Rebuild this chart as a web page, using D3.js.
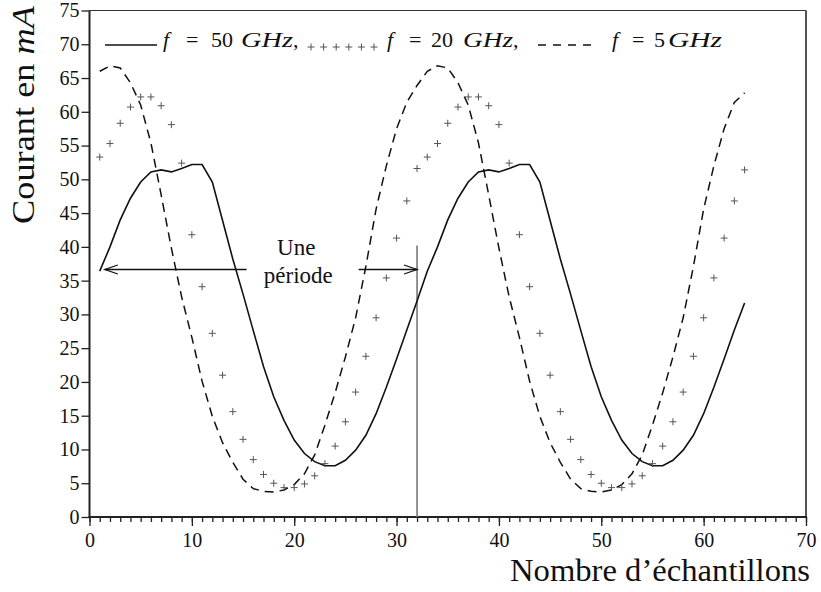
<!DOCTYPE html>
<html><head><meta charset="utf-8">
<script src="https://cdn.jsdelivr.net/npm/d3@7"></script>
<style>body{margin:0;background:#fff}svg{display:block}</style>
</head><body>
<svg id="c" width="821" height="592" font-family="Liberation Serif"></svg>
<script>
// ---- data ----
const samples = [1,2,3,4,5,6,7,8,9,10,11,12,13,14,15,16,17,18,19,20,21,22,23,24,25,26,27,28,29,30,31,32,
  33,34,35,36,37,38,39,40,41,42,43,44,45,46,47,48,49,50,51,52,53,54,55,56,57,58,59,60,61,62,63,64];
const f50 = [36.4,40.0,44.0,47.2,49.6,51.1,51.4,51.1,51.6,52.2,52.2,49.6,43.9,38.2,33.0,27.6,
  22.3,17.8,14.3,11.4,9.4,8.2,7.6,7.6,8.4,9.9,12.1,15.3,19.2,23.4,27.7,32.0,
  36.4,40.0,44.0,47.2,49.6,51.1,51.4,51.1,51.6,52.2,52.2,49.6,43.9,38.2,33.0,27.6,
  22.3,17.8,14.3,11.4,9.4,8.2,7.6,7.6,8.4,9.9,12.1,15.3,19.2,23.4,27.7,31.7];
const f20 = [53.3,55.3,58.3,60.7,62.2,62.2,60.9,58.1,52.4,41.8,34.1,27.2,21.0,15.6,11.5,8.5,
  6.3,5.0,4.35,4.35,4.9,6.1,7.9,10.5,14.1,18.5,23.8,29.5,35.4,41.3,46.8,51.6,
  53.3,55.3,58.3,60.7,62.2,62.2,60.9,58.1,52.4,41.8,34.1,27.2,21.0,15.6,11.5,8.5,
  6.3,5.0,4.35,4.35,4.9,6.1,7.9,10.5,14.1,18.5,23.8,29.5,35.4,41.3,46.8,51.4];
const f5 = [66.0,66.8,66.5,64.3,61.0,55.4,47.7,39.8,32.6,26.6,20.1,14.9,11.0,8.1,5.6,4.2,
  3.8,3.7,4.0,4.8,6.4,9.2,13.6,18.4,23.7,29.5,37.1,45.6,52.0,57.5,61.4,63.9,
  66.0,66.8,66.5,64.3,61.0,55.4,47.7,39.8,32.6,26.6,20.1,14.9,11.0,8.1,5.6,4.2,
  3.8,3.7,4.0,4.8,6.4,9.2,13.6,18.4,23.7,29.5,37.1,45.6,52.0,57.5,61.4,62.8];
const xMajorTicks = [0,10,20,30,40,50,60,70];
const yTickValues = [0,5,10,15,20,25,30,35,40,45,50,55,60,65,70,75];
const periodMark = 32;          // sample index of vertical marker
const arrowLevel = 36.65;       // y value of the "Une période" arrow
const legendLabels = ["50","20","5"];

// ---- scales ----
const FONT = "Liberation Serif";
const svg = d3.select("#c");
const x = d3.scaleLinear().domain([0,70]).range([89.5,806]);
const y = d3.scaleLinear().domain([0,75]).range([517,10.5]);

// frame (top/right)
svg.append("line").attr("x1",x(0)).attr("x2",x(70)).attr("y1",y(75)).attr("y2",y(75))
  .attr("stroke","#333").attr("stroke-width",1.2);
svg.append("line").attr("x1",x(70)).attr("x2",x(70)).attr("y1",y(75)).attr("y2",y(0))
  .attr("stroke","#555").attr("stroke-width",2);

// x axis: minor + major ticks
const xa = svg.append("g").attr("transform",`translate(0,${y(0)})`);
xa.call(d3.axisBottom(x).tickValues(d3.range(0,71,1)).tickSize(5).tickFormat(""));
const xb = svg.append("g").attr("transform",`translate(0,${y(0)})`);
xb.call(d3.axisBottom(x).tickValues(xMajorTicks).tickSize(9).tickPadding(7).tickFormat(d3.format("d")));
[xa,xb].forEach(g=>{g.attr("font-family",FONT);g.select(".domain").remove();g.selectAll("line").attr("stroke","#222").attr("stroke-width",1.3);});
xb.selectAll("text").attr("font-family",FONT).attr("font-size",20).attr("fill","#111");
svg.append("line").attr("x1",x(0)-1).attr("x2",x(70)+1).attr("y1",y(0)).attr("y2",y(0))
  .attr("stroke","#222").attr("stroke-width",2);

// y axis
const ya = svg.append("g").attr("transform",`translate(${x(0)},0)`);
ya.call(d3.axisLeft(y).tickValues(yTickValues).tickSize(8).tickPadding(2).tickFormat(d3.format("d")));
ya.attr("font-family",FONT);
ya.select(".domain").remove();
ya.selectAll("line").attr("stroke","#222").attr("stroke-width",1.3);
ya.selectAll("text").attr("font-family",FONT).attr("font-size",20).attr("fill","#111");
svg.append("line").attr("x1",x(0)).attr("x2",x(0)).attr("y1",y(75)).attr("y2",y(0)+1)
  .attr("stroke","#222").attr("stroke-width",2);

// axis titles
svg.append("text").attr("transform",`translate(34,115) rotate(-90)`)
  .attr("text-anchor","middle").attr("font-family",FONT).attr("font-size",31).attr("fill","#111")
  .attr("textLength",218).attr("lengthAdjust","spacingAndGlyphs")
  .html("Courant en <tspan font-style='italic'>mA</tspan>");
svg.append("text").attr("x",810).attr("y",581).attr("text-anchor","end")
  .attr("font-family",FONT).attr("font-size",31).attr("fill","#111")
  .attr("textLength",300).attr("lengthAdjust","spacingAndGlyphs").text("Nombre d’échantillons");

// vertical period marker
svg.append("line").attr("x1",x(periodMark)).attr("x2",x(periodMark))
  .attr("y1",y(40.2)).attr("y2",y(0)).attr("stroke","#777").attr("stroke-width",1.6);

// series
const pts = (vals)=>samples.map((s,i)=>[s,vals[i]]);
const line = d3.line().x(d=>x(d[0])).y(d=>y(d[1]));
svg.append("path").datum(pts(f5)).attr("d",line).attr("fill","none")
  .attr("stroke","#111").attr("stroke-width",1.5).attr("stroke-dasharray","9,6");
svg.append("path").datum(pts(f50)).attr("d",line).attr("fill","none")
  .attr("stroke","#111").attr("stroke-width",1.6);
const plus = (g,cx,cy)=>{
  g.append("line").attr("x1",cx-3.5).attr("x2",cx+3.5).attr("y1",cy).attr("y2",cy);
  g.append("line").attr("x1",cx).attr("x2",cx).attr("y1",cy-3.5).attr("y2",cy+3.5);
};
const pg = svg.append("g").attr("stroke","#555").attr("stroke-width",1);
pts(f20).forEach(d=>plus(pg,x(d[0]),y(d[1])));

// arrow annotation
const ag = svg.append("g").attr("stroke","#111").attr("stroke-width",1.3).attr("fill","none");
const ay = y(arrowLevel);
ag.append("line").attr("x1",x(1.5)).attr("x2",x(15.35)).attr("y1",ay).attr("y2",ay);
ag.append("path").attr("d",`M${x(1.5)+13},${ay-4.5}L${x(1.5)},${ay}L${x(1.5)+13},${ay+4.5}`);
ag.append("line").attr("x1",x(26.3)).attr("x2",x(periodMark)).attr("y1",ay).attr("y2",ay);
ag.append("path").attr("d",`M${x(periodMark)-13},${ay-4.5}L${x(periodMark)},${ay}L${x(periodMark)-13},${ay+4.5}`);
svg.append("text").attr("x",x(20.2)).attr("y",255).attr("text-anchor","middle")
  .attr("font-family",FONT).attr("font-size",23).attr("fill","#111").text("Une");
svg.append("text").attr("x",x(20.4)).attr("y",283).attr("text-anchor","middle")
  .attr("font-family",FONT).attr("font-size",23).attr("fill","#111").text("période");

// legend
const ly = 45;
svg.append("line").attr("x1",105).attr("x2",157).attr("y1",ly).attr("y2",ly)
  .attr("stroke","#111").attr("stroke-width",1.6);
const lgp = svg.append("g").attr("stroke","#555").attr("stroke-width",1);
[0,1,2,3,4,5].forEach(i=>plus(lgp,311+i*12.6,ly+2));
svg.append("line").attr("x1",538).attr("x2",591).attr("y1",ly).attr("y2",ly)
  .attr("stroke","#111").attr("stroke-width",1.5).attr("stroke-dasharray","8,7");
// legend text pieces: [x of f, x of =, x of number, x of GHz, GHz width, comma]
const legPos = [[163,186,211,241,52,true],[387,409,431,463,50,true],[612,632,654,668,54,false]];
legPos.forEach((p,i)=>{
  const t = svg.append("text").attr("y",ly+2).attr("font-family",FONT).attr("font-size",22).attr("fill","#111");
  t.append("tspan").attr("x",p[0]).attr("font-style","italic").text("f");
  t.append("tspan").attr("x",p[1]).text("=");
  t.append("tspan").attr("x",p[2]).text(legendLabels[i]);
  t.append("tspan").attr("x",p[3]).attr("font-style","italic").attr("textLength",p[4])
    .attr("lengthAdjust","spacingAndGlyphs").text("GHz");
  if(p[5]) t.append("tspan").text(",");
});
</script>
</body></html>
